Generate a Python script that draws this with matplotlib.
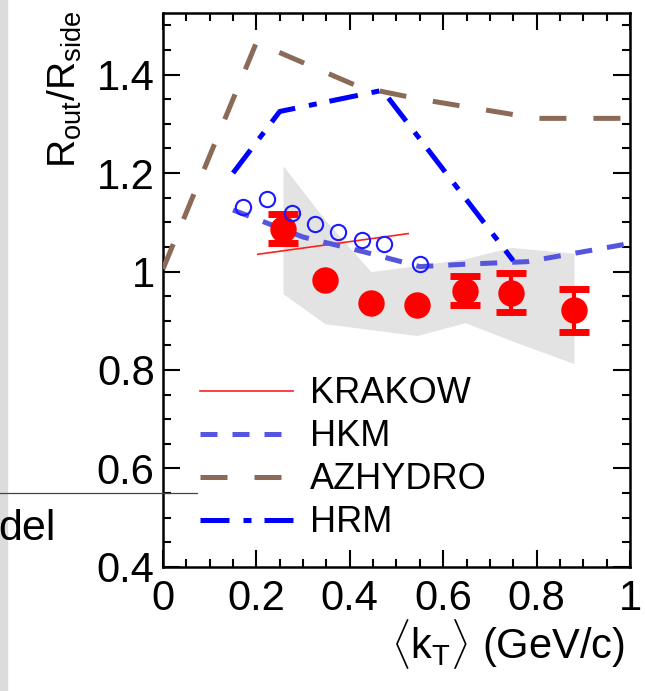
import matplotlib
matplotlib.use("Agg")
import matplotlib.pyplot as plt
from matplotlib.patches import Rectangle
from matplotlib.lines import Line2D
from matplotlib.ticker import MultipleLocator

plt.rcParams['font.family'] = ['Liberation Sans', 'DejaVu Sans']
plt.rcParams['mathtext.fontset'] = 'custom'
plt.rcParams['mathtext.rm'] = 'Liberation Sans'

# measured points (red)
kt_data = [0.257, 0.347, 0.445, 0.544, 0.647, 0.745, 0.880]
ratio_data = [1.087, 0.982, 0.937, 0.933, 0.961, 0.957, 0.921]
ratio_err = [0.030, 0.0, 0.0, 0.0, 0.030, 0.040, 0.043]
band_lo = [0.955, 0.894, 0.882, 0.870, 0.896, 0.860, 0.813]
band_hi = [1.215, 1.105, 1.000, 1.012, 1.026, 1.049, 1.037]

# open circles
kt_open = [0.171, 0.223, 0.276, 0.325, 0.375, 0.426, 0.473, 0.550]
ratio_open = [1.130, 1.148, 1.118, 1.096, 1.081, 1.065, 1.055, 1.016]

# models
kt_krakow = [0.203, 0.525]
r_krakow = [1.035, 1.077]

kt_hkm = [0.15, 0.30, 0.43, 0.55, 0.65, 0.78, 1.0]
r_hkm = [1.125, 1.070, 1.040, 1.010, 1.015, 1.020, 1.057]

kt_azhydro = [0.0, 0.20, 0.42, 0.55, 0.80, 1.0]
r_azhydro = [1.005, 1.465, 1.375, 1.350, 1.311, 1.311]

kt_hrm = [0.15, 0.25, 0.47, 0.75]
r_hrm = [1.200, 1.325, 1.368, 1.022]

fig = plt.figure(figsize=(6.45, 6.91), dpi=100)
ax = fig.add_axes([0.2527, 0.1795, 0.724, 0.8017])

ax.fill_between(kt_data, band_lo, band_hi, color='#e3e3e3', lw=0, zorder=1)

ax.plot(kt_krakow, r_krakow, color='#ff2020', lw=1.2, label='KRAKOW', zorder=3)
ax.plot(kt_hkm, r_hkm, color='#5555dd', lw=3.6, dashes=(3.4, 3.0), label='HKM', zorder=3)
ax.plot(kt_azhydro, r_azhydro, color='#8c6a58', lw=3.6, dashes=(5.4, 5.4), label='AZHYDRO', zorder=3)
ax.plot(kt_hrm, r_hrm, color='#0000ff', lw=3.6, dashes=(5.8, 2.8, 1.6, 2.6), label='HRM', zorder=3)

# only the points with a visible error get bars and caps
with_err = [i for i, e in enumerate(ratio_err) if e > 0]
ax.errorbar([kt_data[i] for i in with_err], [ratio_data[i] for i in with_err],
            yerr=[ratio_err[i] for i in with_err], fmt='none', ecolor='#ff0000',
            elinewidth=3, capsize=11, capthick=5, zorder=4)
ax.plot(kt_data, ratio_data, 'o', color='#ff0000', ms=18, zorder=4)
ax.plot(kt_open, ratio_open, 'o', mfc='none', mec='#1a1aff', ms=11, mew=1.5, zorder=5)

ax.set_xlim(0, 1)
ax.set_ylim(0.4, 1.525)
ax.xaxis.set_minor_locator(MultipleLocator(0.05))
ax.yaxis.set_minor_locator(MultipleLocator(0.05))
ax.set_xticks([0, 0.2, 0.4, 0.6, 0.8, 1.0])
ax.set_xticklabels(['0', '0.2', '0.4', '0.6', '0.8', '1'])
ax.set_yticks([0.4, 0.6, 0.8, 1.0, 1.2, 1.4])
ax.set_yticklabels(['0.4', '0.6', '0.8', '1', '1.2', '1.4'])
ax.tick_params(which='both', direction='in', top=True, right=True, width=1.5,
               labelsize=30)
ax.tick_params(axis='x', which='major', length=12, pad=9)
ax.tick_params(axis='y', which='major', length=12, pad=6)
ax.tick_params(which='minor', length=6)
for s in ax.spines.values():
    s.set_linewidth(1.8)

ax.set_ylabel(r'R$_{\rm out}$/R$_{\rm side}$', fontsize=28, loc='top')
ax.yaxis.set_label_coords(-0.17, 1.005)
ax.set_xlabel(r'$\langle$k$_{\rm T}\rangle$ (GeV/c)', fontsize=30, loc='right')
ax.xaxis.set_label_coords(0.99, -0.09)

ax.legend(loc='upper left', bbox_to_anchor=(0.079, 0.344), frameon=False, fontsize=26,
          handlelength=2.58, handletextpad=0.47, labelspacing=0.22,
          borderpad=0, borderaxespad=0)

# page artefacts around the cropped figure
fig.patches.append(Rectangle((0, 0), 7 / 645, 1, transform=fig.transFigure,
                             color='#dcdcdc', zorder=-1))
fig.lines.append(Line2D([0, 197 / 645], [1 - 493 / 691] * 2, transform=fig.transFigure,
                        color='#444444', lw=0.9))
fig.text(-0.002, 1 - 540 / 691, 'del', fontsize=31, ha='left', va='baseline')

fig.savefig('out.png', dpi=100)
